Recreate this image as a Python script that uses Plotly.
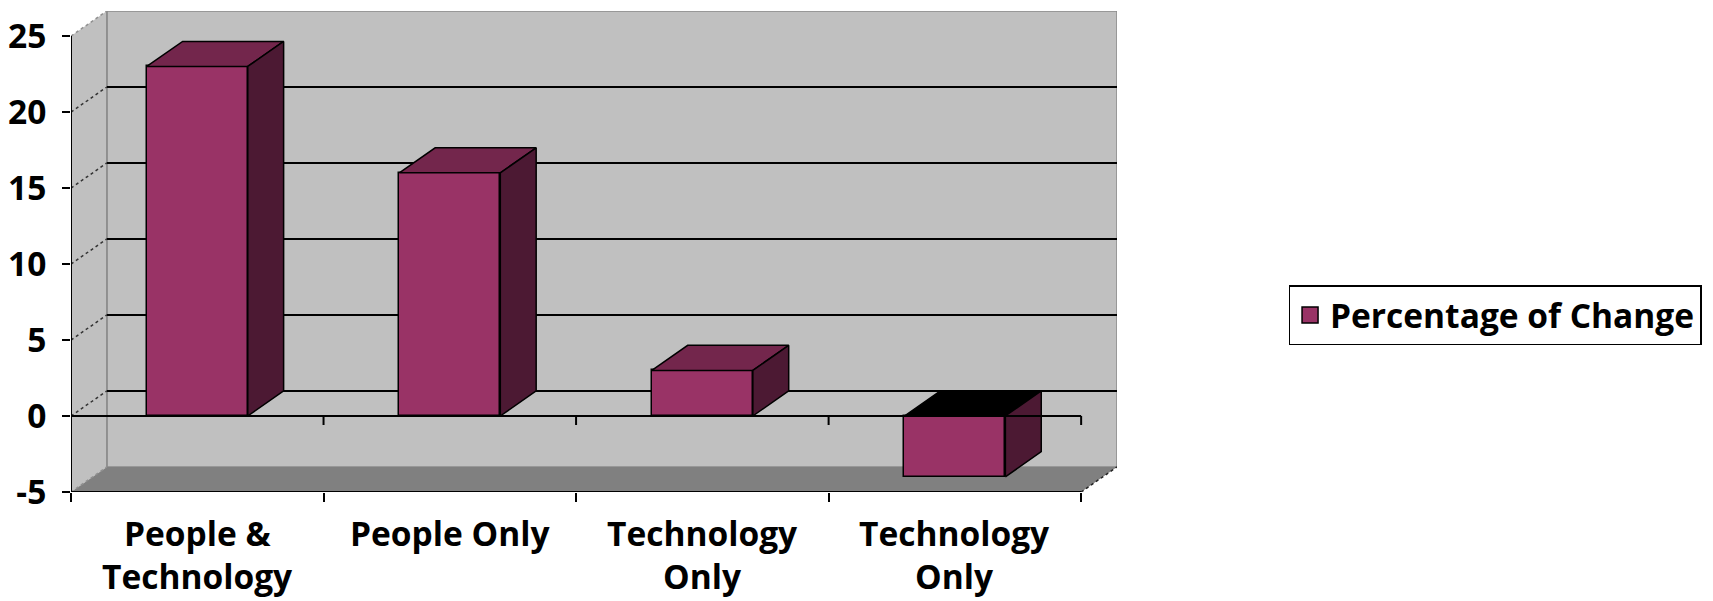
import plotly.graph_objects as go

# ---- data ----
categories = ["People &\nTechnology", "People Only", "Technology\nOnly", "Technology\nOnly"]
values = [23, 16, 3, -4]
series_name = "Percentage of Change"
y_ticks = [-5, 0, 5, 10, 15, 20, 25]
y_tick_labels = ["-5", "0", "5", "10", "15", "20", "25"]

# ---- style ----
FRONT = "#993366"
TOP = "#73264C"
SIDE = "#4C1933"
WALL = "#C0C0C0"
FLOOR = "#808080"
FONT = "Open Sans"
FS = 33.5
BW = 0.4          # bar width (category units)
DX = 0.142        # depth offset in category units
DY = 1.65         # depth offset in value units
YMIN, YMAX = y_ticks[0], y_ticks[-1]
XL, XR = -0.5, len(categories) - 0.5

xs = list(range(len(categories)))

fig = go.Figure()

# front faces
fig.add_trace(go.Bar(
    x=xs, y=values, width=BW, name=series_name,
    marker=dict(color=FRONT, line=dict(color="black", width=1.5)),
    showlegend=False, hoverinfo="skip",
))

# top & side faces
for x, v in zip(xs, values):
    l, r = x - BW / 2, x + BW / 2
    top_v = max(v, 0)
    top_col = TOP if v >= 0 else "black"
    fig.add_trace(go.Scatter(
        x=[l, r, r + DX, l + DX, l], y=[top_v, top_v, top_v + DY, top_v + DY, top_v],
        mode="lines", fill="toself", fillcolor=top_col,
        line=dict(color="black", width=1.5), showlegend=False, hoverinfo="skip"))
    lo, hi = min(v, 0), max(v, 0)
    fig.add_trace(go.Scatter(
        x=[r, r, r + DX, r + DX, r], y=[lo, hi, hi + DY, lo + DY, lo],
        mode="lines", fill="toself", fillcolor=SIDE,
        line=dict(color="black", width=1.5), showlegend=False, hoverinfo="skip"))

# legend entry (square swatch)
fig.add_trace(go.Scatter(
    x=[None], y=[None], mode="markers", name=series_name,
    marker=dict(symbol="square", size=16, color=FRONT, line=dict(color="black", width=1.5)),
    showlegend=True, hoverinfo="skip"))

shapes = []
# back wall
shapes.append(dict(type="rect", layer="below", xref="x", yref="y",
                   x0=XL + DX, x1=XR + DX, y0=YMIN + DY, y1=YMAX + DY,
                   fillcolor=WALL, line=dict(color="#8a8a8a", width=1.5)))
# side wall
shapes.append(dict(type="path", layer="below", xref="x", yref="y",
                   path=f"M{XL},{YMIN} L{XL},{YMAX} L{XL+DX},{YMAX+DY} L{XL+DX},{YMIN+DY} Z",
                   fillcolor=WALL, line=dict(width=0)))
# floor
shapes.append(dict(type="path", layer="below", xref="x", yref="y",
                   path=f"M{XL},{YMIN} L{XR},{YMIN} L{XR+DX},{YMIN+DY} L{XL+DX},{YMIN+DY} Z",
                   fillcolor=FLOOR, line=dict(width=0)))
# side wall back edge
shapes.append(dict(type="line", layer="below", xref="x", yref="y",
                   x0=XL + DX, x1=XL + DX, y0=YMIN + DY, y1=YMAX + DY,
                   line=dict(color="#8a8a8a", width=1.5)))
# back gridlines + side diagonals
for t in y_ticks:
    if YMIN < t < YMAX:
        shapes.append(dict(type="line", layer="below", xref="x", yref="y",
                           x0=XL + DX, x1=XR + DX, y0=t + DY, y1=t + DY,
                           line=dict(color="black", width=2)))
    col = "#333333" if YMIN < t < YMAX else "#909090"
    shapes.append(dict(type="line", layer="below", xref="x", yref="y",
                       x0=XL, x1=XL + DX, y0=t, y1=t + DY,
                       line=dict(color=col, width=1.5, dash="dot")))
# floor right edge
shapes.append(dict(type="line", layer="below", xref="x", yref="y",
                   x0=XR, x1=XR + DX, y0=YMIN, y1=YMIN + DY,
                   line=dict(color="#222222", width=1.5, dash="dot")))
# front axes
shapes.append(dict(type="line", layer="above", xref="x", yref="y",
                   x0=XL, x1=XL, y0=YMIN, y1=YMAX, line=dict(color="black", width=2)))
for yy in (0, YMIN):
    shapes.append(dict(type="line", layer="above", xref="x", yref="y",
                       x0=XL, x1=XR, y0=yy, y1=yy, line=dict(color="black", width=2)))
# ticks on 0 line
for k in range(1, len(categories) + 1):
    shapes.append(dict(type="line", layer="above", xref="x", yref="y",
                       ysizemode="pixel", yanchor=0, y0=0, y1=-9,
                       x0=XL + k, x1=XL + k, line=dict(color="black", width=2)))

annotations = []
for x, lab in zip(xs, categories):
    for i, line in enumerate(lab.split("\n")):
        annotations.append(dict(x=x, xref="x", y=0, yref="paper", yanchor="middle",
                                yshift=-41 - 43 * i, showarrow=False, text=line,
                                font=dict(family=FONT, size=FS, color="black", weight="bold")))

fig.update_layout(
    width=1713, height=601,
    margin=dict(l=71, r=593, t=11, b=109),
    paper_bgcolor="white", plot_bgcolor="white",
    shapes=shapes, annotations=annotations,
    xaxis=dict(range=[XL, XR + DX], showgrid=False, zeroline=False, showline=False,
               tickvals=[XL + k for k in range(len(categories) + 1)], ticktext=[""] * (len(categories) + 1),
               ticks="outside", ticklen=9, tickwidth=2, tickcolor="black", fixedrange=True,
               automargin=False),
    yaxis=dict(range=[YMIN, YMAX + DY], showgrid=False, zeroline=False, showline=False,
               tickvals=y_ticks, ticktext=y_tick_labels,
               ticks="outside", ticklen=8, tickwidth=2, tickcolor="black",
               ticklabelstandoff=9, automargin=False,
               tickfont=dict(family=FONT, size=FS, color="black", weight="bold"), fixedrange=True),
    legend=dict(x=1.164, xanchor="left", y=0.43, yanchor="top",
                bordercolor="black", borderwidth=1.5, itemwidth=30,
                font=dict(family=FONT, size=FS, color="black", weight="bold")),
    bargap=0,
)

fig.write_html("out.html")
